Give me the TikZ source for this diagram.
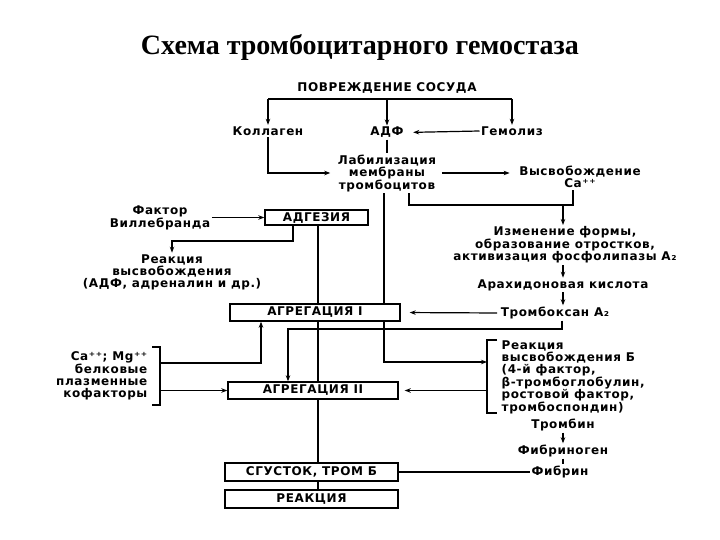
\documentclass[tikz,border=0pt]{standalone}
\usepackage{fontspec}
\setmainfont{Liberation Serif}
\newfontfamily\dvsfont[LetterSpace=5]{DejaVu Sans Bold}
\usetikzlibrary{arrows.meta,calc}
\begin{document}
\begin{tikzpicture}[x=1pt,y=-1pt,
  lbl/.style={font=\dvsfont\fontsize{12}{12}\selectfont, align=center, inner sep=1.5pt},
  boxn/.style={draw, line width=1.4pt, minimum height=17pt, inner sep=0pt, font=\dvsfont\fontsize{12}{12}\selectfont},
  ln/.style={line width=1.2pt},
  arr/.style={ln, -{Stealth[length=6pt,width=4.5pt]}},
]
\useasboundingbox (0,0) rectangle (720,540);
\node[font=\bfseries\fontsize{28}{30}\selectfont] (title) at (360,47) {Схема тромбоцитарного гемостаза};

\node[lbl] (povr) at (387,88) {ПОВРЕЖДЕНИЕ СОСУДА};
\node[lbl] (kol) at (268,131) {Коллаген};
\node[lbl] (adf) at (387,132.5) {АДФ};
\node[lbl] (gem) at (512,131) {Гемолиз};
\node[lbl] (lab) at (387,173) {Лабилизация\\мембраны\\тромбоцитов};
\node[lbl] (vys) at (580,177) {Высвобождение\\Ca⁺⁺};
\node[boxn, minimum width=103pt, minimum height=15pt] (adg) at (316.5,217.5) {АДГЕЗИЯ};
\node[lbl] (vil) at (160,218) {Фактор\\Виллебранда};
\node[lbl] (rv) at (172,272) {Реакция\\высвобождения\\(АДФ, адреналин и др.)};
\node[lbl] (izm) at (565,245) {Изменение формы,\\образование отростков,\\активизация фосфолипазы A₂};
\node[lbl] (arah) at (563,285) {Арахидоновая кислота};
\node[lbl] (trx) at (555,313) {Тромбоксан A₂};
\node[boxn, minimum width=170pt] (ag1) at (315,312.5) {АГРЕГАЦИЯ I};
\node[lbl, align=right, anchor=east] (ca) at (149,376) {Ca⁺⁺; Mg⁺⁺\\белковые\\плазменные\\кофакторы};
\node[boxn, minimum width=170pt] (ag2) at (313,390.5) {АГРЕГАЦИЯ II};
\node[lbl, align=left, anchor=west] (rb) at (500,377) {Реакция\\высвобождения Б\\(4-й фактор,\\β-тромбоглобулин,\\ростовой фактор,\\тромбоспондин)};
\node[lbl] (trb) at (563,425) {Тромбин};
\node[lbl] (fbg) at (563,451) {Фибриноген};
\node[lbl] (fib) at (560,472) {Фибрин};
\node[boxn, minimum width=173pt, minimum height=18pt] (sg) at (311.5,472) {СГУСТОК, ТРОМ Б};
\node[boxn, minimum width=173pt, minimum height=18pt] (re) at (311.5,499) {РЕАКЦИЯ};

% coordinates
\coordinate (hb) at (387,99);
\coordinate (c1) at (409,205);
\coordinate (c2) at (573,205);
\coordinate (c3) at (563,205);
\coordinate (v1) at (384,0);
\coordinate (v2) at (318,0);
\coordinate (v3) at (261,0);
\coordinate (a1) at (293,241);
\coordinate (t1) at (562,329);
\coordinate (t2) at (288,329);
\coordinate (cb1) at (152,347);
\coordinate (cb2) at (160,347);
\coordinate (cb3) at (160,405);
\coordinate (cb4) at (152,405);
\coordinate (cbu) at (160,363);
\coordinate (cbl) at (160,390.5);
\coordinate (rb1) at (497,340);
\coordinate (rb2) at (487,340);
\coordinate (rb3) at (487,413);
\coordinate (rb4) at (497,413);
\coordinate (rbu) at (487,362);
\coordinate (rbl) at (487,390.5);

% top
\draw[ln] (kol.north |- hb) -- (gem.north |- hb);
\draw[arr] (kol.north |- hb) -- (kol.north);
\draw[arr] (hb) -- (adf.north);
\draw[arr] (gem.north |- hb) -- (gem.north);
\draw[arr, shorten >=8pt] (gem.west) -- (adf.east);
\draw[ln] (adf.south) -- (lab.north);
\draw[arr, shorten >=6pt] (kol.south) |- (lab.west);
\draw[arr, shorten <=4pt, shorten >=8pt] (lab.east) -- (lab.east -| vys.west);
\draw[ln] (lab.south -| c1) -- (c1) -- (c2) -- (vys.south -| c2);
\draw[arr] (c3) -- (izm.north -| c3);

% left
\draw[arr] (vil.east |- adg.west) -- (adg.west);
\draw[arr] (adg.south -| a1) -- (a1) -| (rv.north);
\draw[ln] (adg.south -| v2) -- (ag1.north -| v2);
\draw[ln] (lab.south -| v1) -- (ag1.north -| v1);
\draw[ln] (ag1.south -| v2) -- (ag2.north -| v2);
\draw[ln] (ag2.south -| v2) -- (sg.north -| v2);
\draw[ln] (sg.south -| v2) -- (re.north -| v2);

% right column
\draw[arr] (izm.south -| c3) -- (arah.north -| c3);
\draw[arr] (arah.south -| c3) -- (trx.north -| c3);
\draw[arr, shorten <=2pt, shorten >=9pt] (trx.west) -- (ag1.east);
\draw[arr] (trx.south -| t1) -- (t1) -- (t2) -- (ag2.north -| t2);

% brackets
\draw[ln] (cb1) -- (cb2) -- (cb3) -- (cb4);
\draw[arr] (cbu) -| (ag1.south -| v3);
\draw[arr] (cbl) -- (ag2.west);
\draw[ln] (rb1) -- (rb2) -- (rb3) -- (rb4);
\draw[arr] (ag1.south -| v1) |- (rbu);
\draw[arr, shorten >=6pt] (rbl) -- (ag2.east);

% bottom
\draw[arr] (trb.south) -- (fbg.north);
\draw[ln] (fbg.south) -- (fib.north -| fbg.south);
\draw[ln] (fib.west) -- (sg.east);
\end{tikzpicture}
\end{document}
